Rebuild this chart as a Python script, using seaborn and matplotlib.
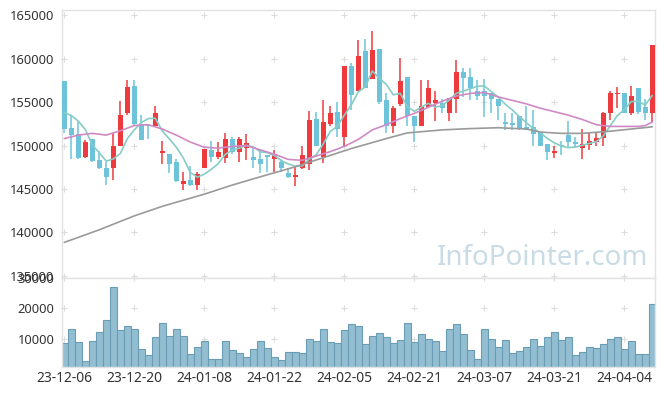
import numpy as np
import pandas as pd
import matplotlib
matplotlib.use("Agg")
import matplotlib.pyplot as plt
import seaborn as sns

sns.set_theme(style="white")
plt.rcParams["font.family"] = ["Noto Sans", "DejaVu Sans"]

# ---------------- data ----------------
opens = [157400, 152000, 151300, 148700, 150700, 148300, 147400, 147400, 149900, 153700,
         156800, 152500, 152400, 152200, 149100, 149000, 148100, 145600, 146000, 145400,
         147400, 149500, 148700, 148600, 150700, 149300, 149700, 148700, 148400, 148900,
         148500, 148100, 146800, 146400, 147400, 147900, 153000, 148700, 152500, 153900,
         151000, 159200, 156300, 160900, 157700, 161100, 155200, 152200, 154800, 157900,
         153400, 152300, 154400, 154900, 154900, 153700, 155400, 158500, 157900, 156300,
         156300, 156000, 155300, 152700, 152600, 153400, 152100, 152100, 151500, 150200,
         149100, 150000, 151200, 150400, 149700, 150100, 150400, 150900, 153700, 155900,
         156000, 153800, 156600, 154400, 153800]
highs = [157400, 153500, 152800, 150600, 150700, 149400, 148100, 151400, 155100, 157500,
         157500, 153500, 152400, 154600, 150500, 149000, 148400, 146900, 147700, 147000,
         149600, 150500, 150400, 151400, 151000, 151000, 151300, 149700, 149500, 148900,
         149500, 148500, 147400, 147600, 149900, 154000, 153900, 155200, 154500, 155000,
         159200, 159500, 162100, 162300, 163200, 161100, 156000, 154600, 160100, 157900,
         153400, 157500, 157500, 156300, 155300, 155500, 159800, 158900, 158900, 157600,
         157700, 156000, 155300, 153800, 153700, 153400, 154500, 154100, 151500, 150200,
         150000, 150500, 152800, 151000, 151900, 151500, 151500, 153900, 156300, 156700,
         156000, 156800, 156600, 155400, 161600]
lows = [151400, 148500, 148400, 148600, 148100, 147300, 145500, 146000, 149900, 153500,
        152300, 150600, 150700, 152200, 147900, 146800, 145800, 144900, 145300, 144900,
        147400, 148100, 148400, 148000, 149000, 148100, 148300, 147400, 146800, 147000,
        147000, 147000, 146300, 145300, 147300, 147200, 149900, 148000, 152300, 151000,
        150000, 154100, 156300, 156600, 157700, 154800, 151400, 151400, 154600, 152300,
        150400, 152300, 154300, 152800, 153700, 152800, 153700, 155600, 155200, 155200,
        153300, 153700, 152900, 151800, 151800, 151800, 151800, 150000, 149900, 148300,
        148600, 148900, 149700, 149700, 148400, 149500, 150000, 149900, 152900, 154300,
        153700, 153500, 153600, 152900, 152700]
closes = [151900, 151200, 148600, 150400, 148200, 147400, 146400, 149900, 153500, 156700,
          152500, 150600, 152200, 153700, 149400, 147900, 145900, 145900, 145400, 146700,
          149600, 148700, 149200, 150700, 149200, 150700, 150300, 148300, 147900, 148700,
          149000, 147400, 146400, 146600, 148900, 152900, 149900, 152700, 153700, 151900,
          159200, 155800, 160300, 156600, 161000, 155000, 152300, 154300, 157400, 153400,
          152300, 154600, 156600, 155200, 154300, 155500, 158500, 157800, 156600, 155700,
          155700, 155300, 154600, 152500, 152400, 151900, 151800, 151300, 149900, 149200,
          149400, 149900, 150400, 150200, 150200, 150500, 150900, 153700, 156000, 156100,
          153800, 155700, 153900, 153800, 161600]
volumes = [8590, 13150, 8910, 2830, 9350, 12280, 16090, 27170, 12830, 14130,
           13150, 6630, 4670, 10540, 15110, 10870, 13150, 10870, 5000, 7280,
           9240, 3370, 3370, 9240, 6300, 5330, 4020, 6630, 9240, 6960,
           4020, 3040, 5650, 5650, 5330, 9890, 9240, 13150, 8910, 8590,
           12830, 14780, 14130, 8260, 10870, 11850, 10540, 8590, 9570, 15110,
           8910, 11520, 9890, 9240, 5980, 13150, 14780, 11520, 6300, 3370,
           13150, 9890, 7280, 9570, 5330, 5980, 7280, 9890, 7610, 10540,
           12170, 9570, 10540, 4670, 5650, 7280, 6960, 8260, 9890, 10540,
           6630, 9240, 5000, 5000, 21630]

# first MA5 values (need earlier sessions)
ma5_head = [153770, 153460, 152810, 151850]

# MA20 line read at sampled sessions
ma20_idx = [0, 2, 4, 6, 8, 10, 12, 14, 16, 18, 20, 22, 24, 26, 28, 30, 32, 34, 36, 38, 40,
            42, 44, 46, 48, 50, 52, 54, 56, 58, 60, 62, 64, 66, 68, 70, 72, 74, 76, 78, 80,
            82, 83, 84]
ma20_val = [150800, 151200, 151400, 151200, 151700, 152300, 152400, 151900, 151200, 150400,
            149800, 149700, 149900, 150000, 149500, 149000, 148400, 148300, 148800, 149300,
            149900, 150700, 151800, 152400, 153100, 153700, 154400, 155100, 155700, 156000,
            156100, 155600, 155200, 154800, 154300, 153900, 153500, 153000, 152400, 152200,
            152200, 152200, 152300, 152700]

# MA60 line read at sampled sessions
ma60_idx = [0, 5, 10, 14, 17, 20, 24, 28, 33, 37, 41, 46, 49, 54, 58, 62, 66, 68, 71, 74,
            78, 81, 84]
ma60_val = [138850, 140300, 141900, 143000, 143700, 144400, 145450, 146400, 147550, 148600,
            149650, 150800, 151450, 151800, 151950, 152050, 151900, 151550, 151400, 151400,
            151650, 151900, 152150]

tick_idx = [0, 10, 20, 30, 40, 50, 60, 70, 80]
tick_labels = ["23-12-06", "23-12-20", "24-01-08", "24-01-22", "24-02-05",
               "24-02-21", "24-03-07", "24-03-21", "24-04-04"]
price_ticks = [135000, 140000, 145000, 150000, 155000, 160000, 165000]
vol_ticks = [10000, 20000, 30000]

# ---------------- figure ----------------
UP = "#ee3a3d"
DOWN = "#6cc3da"
SPINE = "#e2e2e2"
TXT = "#333333"

df = pd.DataFrame({"o": opens, "h": highs, "l": lows, "c": closes, "v": volumes})
df["i"] = np.arange(len(df))
ma5 = df["c"].rolling(5).mean().to_numpy()
ma5[:4] = ma5_head
df["ma5"] = ma5

fig = plt.figure(figsize=(6.65, 3.96), dpi=100)
ax = fig.add_axes([0.0925, 0.298, 0.8925, 0.6767])
ax2 = fig.add_axes([0.0925, 0.0732, 0.8925, 0.2248])

xlim = (-0.4, 84.4)

# grid '+' markers
for a, yt in ((ax, price_ticks), (ax2, vol_ticks)):
    gx, gy = np.meshgrid(tick_idx, yt)
    a.plot(gx.ravel(), gy.ravel(), linestyle="none", marker="+", ms=5, mew=0.8,
           color="#dcdcdc", zorder=0, clip_on=False)

# candles
up = df["c"] >= df["o"]
cols = np.where(up, UP, DOWN)
ax.vlines(df["i"], df["l"], df["h"], colors=cols, linewidth=1.1, zorder=2)
body_bottom = np.minimum(df["o"], df["c"])
body_h = np.maximum((df["c"] - df["o"]).abs(), 130)
ax.bar(df["i"], body_h, bottom=body_bottom, width=0.68, color=cols, linewidth=0, zorder=3)

# moving averages
sns.lineplot(x=df["i"], y=df["ma5"], ax=ax, color="#86cdc6", linewidth=1.2, zorder=4)
sns.lineplot(x=ma20_idx, y=ma20_val, ax=ax, color="#cf8ac6", linewidth=1.2, zorder=4)
sns.lineplot(x=ma60_idx, y=ma60_val, ax=ax, color="#9a9a9a", linewidth=1.2, zorder=4)

ax.text(0.988, 0.075, "InfoPointer.com", transform=ax.transAxes, ha="right", va="center",
        fontsize=20, color="#c9dce6", zorder=1)

ax.set_xlim(*xlim)
ax.set_ylim(134750, 165600)
ax.set_yticks(price_ticks)
ax.set_yticklabels([str(t) for t in price_ticks])
ax.set_xticks(tick_idx)
ax.set_xticklabels([])
ax.set_xlabel("")
ax.set_ylabel("")

# volume
sns.barplot(x=df["i"], y=df["v"], ax=ax2, color="#93bed1", saturation=1, width=1.0,
            edgecolor="#6a9db5", linewidth=0.8, zorder=2)
ax2.set_xlim(*xlim)
ax2.set_ylim(800, 30000)
ax2.set_yticks(vol_ticks)
ax2.set_yticklabels([str(t) for t in vol_ticks])
ax2.set_xticks(tick_idx)
ax2.set_xticklabels(tick_labels)
ax2.set_xlabel("")
ax2.set_ylabel("")

for a in (ax, ax2):
    for s in a.spines.values():
        s.set_color(SPINE)
        s.set_linewidth(1.0)
    a.tick_params(length=0, colors=TXT)
    a.grid(False)
ax.tick_params(axis="y", labelsize=9.3, pad=5)
ax2.tick_params(axis="y", labelsize=9.3, pad=5)
ax2.tick_params(axis="x", labelsize=10, pad=3)

fig.savefig("out.png", dpi=100)
